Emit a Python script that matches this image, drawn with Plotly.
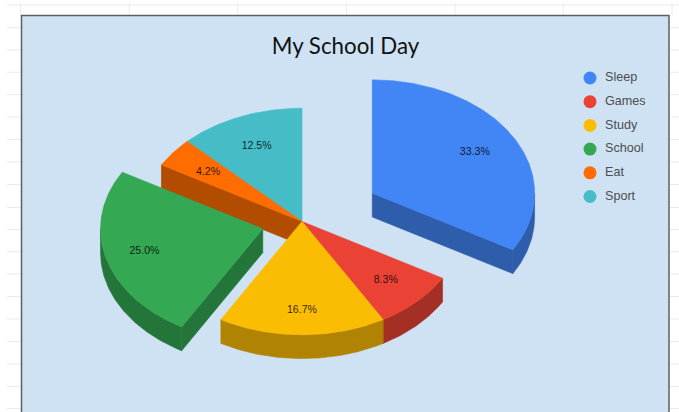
import math
import plotly.graph_objects as go

# ---- data ----
categories = ["Sleep", "Games", "Study", "School", "Eat", "Sport"]
hours = [8, 2, 4, 6, 1, 3]
explode = [0.5, 0, 0, 0.25, 0, 0]
colors = ["#4285f4", "#ea4335", "#fbbc04", "#34a853", "#ff6d01", "#46bdc6"]
side_colors = ["#2e5dab", "#a32f25", "#b08303", "#24753a", "#b24c01", "#31848b"]
label_radius = [0.73, 0.73, 0.78, 0.755, 0.73, 0.73]
title_text = "My School Day"

# ---- geometry of the tilted pie (pixel-mapped axes) ----
CX, CY, RX, RY, DEPTH = 302, 221.5, 162.3, 113.3, 23.8
LABEL_DY = 0.8
W, H = 679, 412

total = sum(hours)


def pt(a, r=1.0, ox=0.0, oy=0.0, dz=0.0):
    t = math.radians(a)
    return (CX + ox + RX * r * math.sin(t), CY + oy - RY * r * math.cos(t) + dz)


def arc(a0, a1, ox, oy, dz=0.0):
    n = max(2, int(abs(a1 - a0) * 1.5))
    return [pt(a0 + (a1 - a0) * i / n, 1, ox, oy, dz) for i in range(n + 1)]


def poly(points, color, width=0.6):
    return go.Scatter(
        x=[p[0] for p in points] + [points[0][0]],
        y=[p[1] for p in points] + [points[0][1]],
        mode="lines", fill="toself", fillcolor=color,
        line=dict(color=color, width=width),
        hoverinfo="skip", showlegend=False,
    )


fig = go.Figure()

# slice angles
angles = []
acc = 0.0
for v in hours:
    angles.append((acc, acc + v / total * 360))
    acc += v / total * 360

label_pts = []
for i in [5, 4, 0, 1, 3, 2]:  # back to front
    a0, a1 = angles[i]
    mid = (a0 + a1) / 2
    t = math.radians(mid)
    ox = explode[i] * RX * math.sin(t)
    oy = -explode[i] * RY * math.cos(t)
    v0 = (CX + ox, CY + oy)
    v0b = (v0[0], v0[1] + DEPTH)
    # cut faces
    if math.sin(math.radians(a0)) < -1e-9:
        fig.add_trace(poly([v0, pt(a0, 1, ox, oy), pt(a0, 1, ox, oy, DEPTH), v0b], side_colors[i]))
    if math.sin(math.radians(a1)) > 1e-9:
        fig.add_trace(poly([v0, pt(a1, 1, ox, oy), pt(a1, 1, ox, oy, DEPTH), v0b], side_colors[i]))
    # outer rim
    r0, r1 = max(a0, 90), min(a1, 270)
    if r1 > r0:
        fig.add_trace(poly(arc(r0, r1, ox, oy) + arc(r1, r0, ox, oy, DEPTH), side_colors[i]))
    # top
    fig.add_trace(poly([v0] + arc(a0, a1, ox, oy), colors[i]))
    label_pts.append((pt(mid, label_radius[i], ox, oy, LABEL_DY), f"{hours[i] / total * 100:.1f}%"))

# percentage labels
fig.add_trace(go.Scatter(
    x=[p[0][0] for p in label_pts], y=[p[0][1] for p in label_pts],
    text=[p[1] for p in label_pts], mode="text", textposition="middle center",
    textfont=dict(family="Liberation Sans", size=10.6, color="rgba(0,0,0,0.82)"),
    hoverinfo="skip", showlegend=False,
))

# legend
LEG_X, LEG_TX, LEG_Y, LEG_STEP = 590, 605, 78.0, 23.7
leg_y = [LEG_Y + LEG_STEP * i for i in range(len(categories))]
fig.add_trace(go.Scatter(
    x=[LEG_X] * len(categories), y=leg_y, mode="markers",
    marker=dict(size=13, color=colors, line=dict(width=0)),
    hoverinfo="skip", showlegend=False,
))
fig.add_trace(go.Scatter(
    x=[LEG_TX] * len(categories), y=leg_y, text=categories, mode="text",
    textposition="middle right",
    textfont=dict(family="Liberation Sans", size=12.6, color="#4d4d4d"),
    hoverinfo="skip", showlegend=False,
))

# spreadsheet grid and chart frame
GRID = "#ececec"
shapes = []
grid_y = [27.7, 50, 72.3, 94.7, 117, 139.5, 162, 184.5, 207.5, 229.5, 251.7, 274, 296.5, 319, 341.5, 364, 386.3, 408.5]
for y in grid_y:
    shapes.append(dict(type="line", x0=7, x1=W, y0=y, y1=y, line=dict(color=GRID, width=1), layer="below"))
shapes.append(dict(type="line", x0=7, x1=W, y0=5, y1=5, line=dict(color=GRID, width=1), layer="below"))
for x in [20.7, 129.3, 237.7, 346.7, 455, 563.3, 672]:
    shapes.append(dict(type="line", x0=x, x1=x, y0=3, y1=16, line=dict(color=GRID, width=1), layer="below"))
shapes.append(dict(type="rect", x0=21.5, x1=669, y0=15.5, y1=440,
                   fillcolor="#cfe2f3", line=dict(color="#5f5f5f", width=1.5), layer="below"))

fig.update_layout(
    width=W, height=H,
    margin=dict(l=0, r=0, t=0, b=0),
    paper_bgcolor="white", plot_bgcolor="white",
    xaxis=dict(range=[0, W], visible=False, fixedrange=True),
    yaxis=dict(range=[H, 0], visible=False, fixedrange=True),
    shapes=shapes, showlegend=False,
    title=dict(text=title_text, x=345.5 / W, xanchor="center", y=1 - 46 / H, yanchor="middle",
               font=dict(family="Lato", size=22.3, color="#111111")),
)
fig.write_html("out.html", config=dict(displayModeBar=False),
               post_script="document.body.style.margin='0';document.body.style.overflow='hidden';")
